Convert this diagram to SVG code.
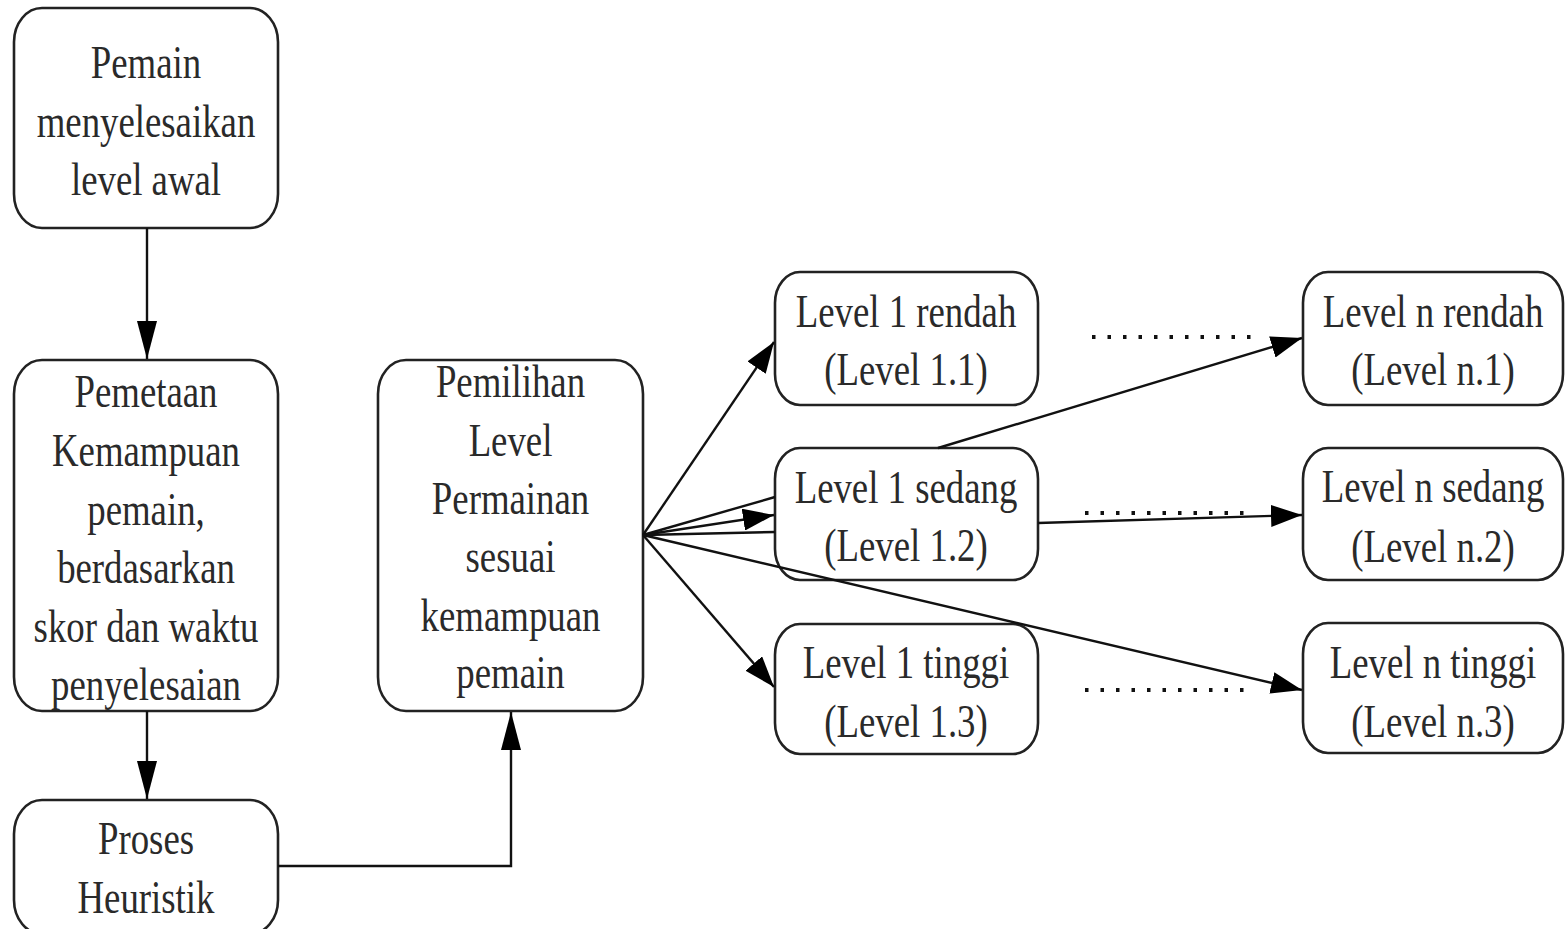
<svg xmlns="http://www.w3.org/2000/svg" width="1565" height="929" viewBox="0 0 1565 929">
<style>
.box{fill:#fff;stroke:#222;stroke-width:2.6}
.t{font-family:"Liberation Serif","Times New Roman",serif;font-size:46px;fill:#2a2a2a;text-anchor:middle}
.ln{fill:none;stroke:#111;stroke-width:2.4}
.dot{fill:none;stroke:#111;stroke-width:4;stroke-dasharray:3.5 12}
</style>
<defs>
<marker id="ah" markerUnits="userSpaceOnUse" markerWidth="31" markerHeight="22" refX="31" refY="11" orient="auto"><path d="M0,0 L31,11 L0,22 z" fill="#000"/></marker>
<marker id="av" markerUnits="userSpaceOnUse" markerWidth="38" markerHeight="20" refX="38" refY="10" orient="auto"><path d="M0,0 L38,10 L0,20 z" fill="#000"/></marker>
</defs>
<rect width="1565" height="929" fill="#fff"/>

<g id="n1"><rect class="box" x="14" y="8" width="264" height="220" rx="28" ry="34"/>
<g transform="translate(146,0) scale(0.8,1)"><text class="t" x="0" y="78">Pemain</text><text class="t" x="0" y="137">menyelesaikan</text><text class="t" x="0" y="195">level awal</text></g></g>

<g id="n2"><rect class="box" x="14" y="360" width="264" height="351" rx="28" ry="34"/>
<g transform="translate(146,0) scale(0.8,1)"><text class="t" x="0" y="407">Pemetaan</text><text class="t" x="0" y="466">Kemampuan</text><text class="t" x="0" y="525">pemain,</text><text class="t" x="0" y="583">berdasarkan</text><text class="t" x="0" y="642">skor dan waktu</text><text class="t" x="0" y="700">penyelesaian</text></g></g>

<g id="n3"><rect class="box" x="14" y="800" width="264" height="134" rx="28" ry="34"/>
<g transform="translate(146,0) scale(0.8,1)"><text class="t" x="0" y="854">Proses</text><text class="t" x="0" y="913">Heuristik</text></g></g>

<g id="n4"><rect class="box" x="378" y="360" width="265" height="351" rx="28" ry="34"/>
<g transform="translate(510.5,0) scale(0.8,1)"><text class="t" x="0" y="397">Pemilihan</text><text class="t" x="0" y="456">Level</text><text class="t" x="0" y="514">Permainan</text><text class="t" x="0" y="572">sesuai</text><text class="t" x="0" y="631">kemampuan</text><text class="t" x="0" y="688">pemain</text></g></g>

<g id="l11"><rect class="box" x="775" y="272" width="263" height="133" rx="25" ry="31"/>
<g transform="translate(906,0) scale(0.8,1)"><text class="t" x="0" y="327">Level 1 rendah</text><text class="t" x="0" y="385">(Level 1.1)</text></g></g>
<g id="l12"><rect class="box" x="775" y="448" width="263" height="132" rx="25" ry="31"/>
<g transform="translate(906,0) scale(0.8,1)"><text class="t" x="0" y="503">Level 1 sedang</text><text class="t" x="0" y="561">(Level 1.2)</text></g></g>
<g id="l13"><rect class="box" x="775" y="624" width="263" height="130" rx="25" ry="31"/>
<g transform="translate(906,0) scale(0.8,1)"><text class="t" x="0" y="678">Level 1 tinggi</text><text class="t" x="0" y="737">(Level 1.3)</text></g></g>

<g id="ln1"><rect class="box" x="1303" y="272" width="260" height="133" rx="25" ry="31"/>
<g transform="translate(1433,0) scale(0.8,1)"><text class="t" x="0" y="327">Level n rendah</text><text class="t" x="0" y="385">(Level n.1)</text></g></g>
<g id="ln2"><rect class="box" x="1303" y="448" width="260" height="132" rx="25" ry="31"/>
<g transform="translate(1433,0) scale(0.8,1)"><text class="t" x="0" y="502">Level n sedang</text><text class="t" x="0" y="562">(Level n.2)</text></g></g>
<g id="ln3"><rect class="box" x="1303" y="623" width="260" height="130" rx="25" ry="31"/>
<g transform="translate(1433,0) scale(0.8,1)"><text class="t" x="0" y="678">Level n tinggi</text><text class="t" x="0" y="737">(Level n.3)</text></g></g>

<g id="connectors">
<line class="ln" x1="147" y1="228" x2="147" y2="359" marker-end="url(#av)"/>
<line class="ln" x1="147" y1="711" x2="147" y2="799" marker-end="url(#av)"/>
<path class="ln" d="M278,866 H511 V712" marker-end="url(#av)"/>
<line class="ln" x1="643" y1="535" x2="774" y2="342" marker-end="url(#ah)"/>
<line class="ln" x1="643" y1="535" x2="775" y2="497"/>
<line class="ln" x1="643" y1="535" x2="774" y2="515" marker-end="url(#ah)"/>
<line class="ln" x1="643" y1="535" x2="775" y2="532"/>
<line class="ln" x1="643" y1="535" x2="774" y2="687" marker-end="url(#ah)"/>
<line class="ln" x1="643" y1="535" x2="1302" y2="690" marker-end="url(#ah)"/>
<line class="ln" x1="938" y1="448" x2="1302" y2="338" marker-end="url(#ah)"/>
<line class="ln" x1="1038" y1="523" x2="1302" y2="515" marker-end="url(#ah)"/>
<line class="dot" x1="1092" y1="337" x2="1252" y2="337"/>
<line class="dot" x1="1085" y1="513" x2="1245" y2="513"/>
<line class="dot" x1="1085" y1="690" x2="1245" y2="690"/>
</g>
</svg>
